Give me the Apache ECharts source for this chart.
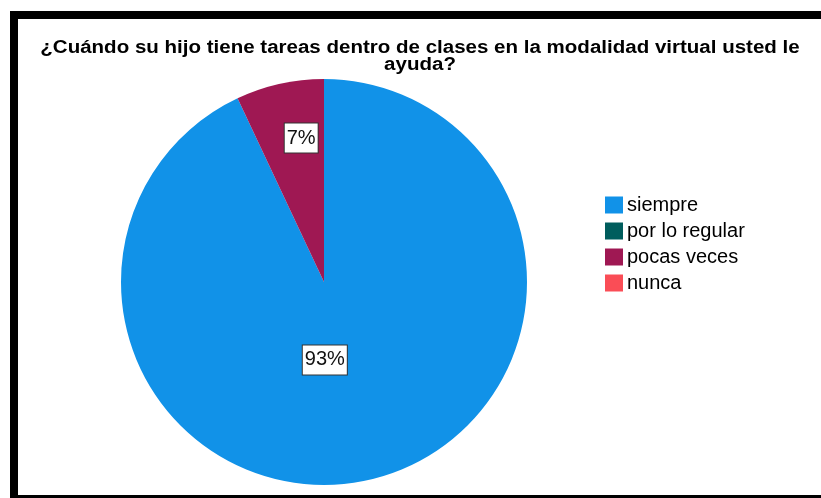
<!DOCTYPE html>
<html>
<head>
<meta charset="utf-8">
<script src="https://cdn.jsdelivr.net/npm/echarts@6/dist/echarts.min.js"></script>
<style>
  html, body { margin: 0; padding: 0; background: #fff; }
  #wrap { position: relative; width: 821px; height: 498px; overflow: hidden; background: #fff; }
  #frame {
    position: absolute; left: 10px; top: 11px; width: 900px; height: 476px;
    border: 8px solid #000; border-right: none; box-sizing: content-box;
  }
  #main { position: absolute; left: 0; top: 0; width: 821px; height: 498px; }
</style>
</head>
<body>
<div id="wrap">
  <div id="frame"></div>
  <div id="main"></div>
</div>
<script>
  const titleText = "¿Cuándo su hijo tiene tareas dentro de clases en la modalidad virtual usted le\nayuda?";
  const categories = ["siempre", "por lo regular", "pocas veces", "nunca"];
  const values = [93, 0, 7, 0];
  const colors = ["#1192e8", "#005d5d", "#9f1853", "#fa4d56"];
  // label nudges so they sit where the original put them
  const labelOffsets = [[-22, -24], [0, 0], [0, -42], [0, 0]];

  const chartDom = document.getElementById("main");
  const myChart = echarts.init(chartDom, null, { renderer: "canvas" });

  const option = {
    backgroundColor: "transparent",
    animation: false,
    color: colors,
    // title drawn as graphic text so it can be stretched sideways like the original
    graphic: [
      {
        type: "text",
        x: 420,
        y: 40,
        originX: 0,
        scaleX: 1.14,
        style: {
          text: titleText,
          x: 0,
          y: 0,
          align: "center",
          verticalAlign: "top",
          font: "bold 18px 'Liberation Sans', Arial, sans-serif",
          lineHeight: 17,
          fill: "#000"
        }
      }
    ],
    legend: {
      orient: "vertical",
      left: 600,
      top: 190,
      itemWidth: 18,
      itemHeight: 17,
      itemGap: 6,
      icon: "rect",
      selectedMode: false,
      data: categories,
      textStyle: {
        fontFamily: "Liberation Sans, Arial, sans-serif",
        fontSize: 20,
        color: "#000",
        padding: [0, 0, 0, -1]
      }
    },
    series: [
      {
        type: "pie",
        center: [324, 282],
        radius: 203,
        startAngle: 90,
        clockwise: true,
        avoidLabelOverlap: false,
        labelLine: { show: false },
        itemStyle: { borderWidth: 0 },
        label: {
          show: true,
          position: "inside",
          formatter: (p) => p.value + "%",
          fontFamily: "Liberation Sans, Arial, sans-serif",
          fontSize: 20,
          color: "#111",
          backgroundColor: "#fff",
          borderColor: "#333",
          borderWidth: 1,
          padding: [5, 2, 4, 2]
        },
        data: categories.map((name, i) => ({
          name: name,
          value: values[i],
          label: { show: values[i] > 0, offset: labelOffsets[i] }
        }))
      }
    ]
  };

  option && myChart.setOption(option);
</script>
</body>
</html>
